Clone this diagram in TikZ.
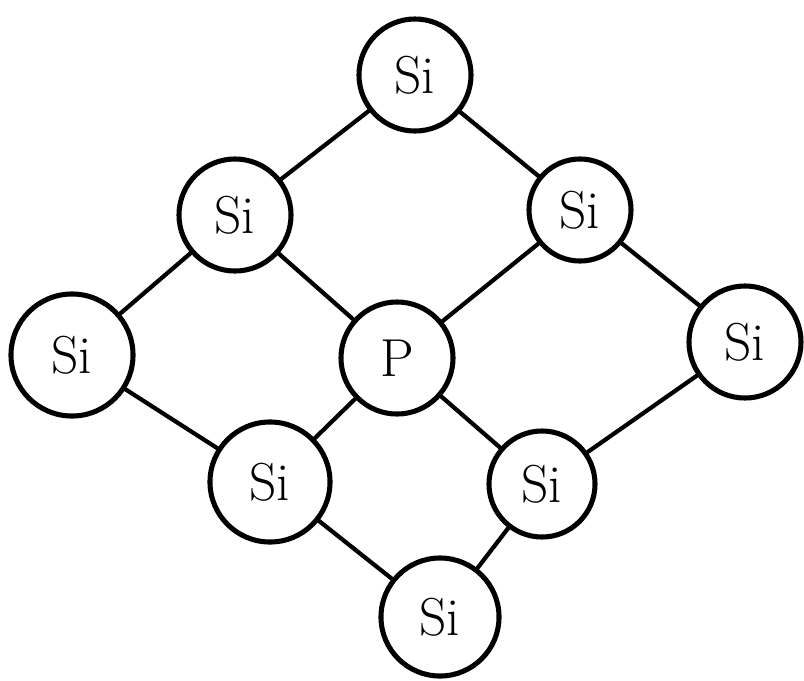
\documentclass[tikz,border=0pt]{standalone}
\usepackage{tikz}
\tikzset{
  atom/.style={draw=black,circle,line width=3.6pt,minimum size=2.8cm,inner sep=0pt,font=\fontsize{38}{38}\selectfont},
  bond/.style={line width=3pt,line cap=round}
}
\begin{document}
\begin{tikzpicture}[x=0.025cm,y=-0.025cm]
\useasboundingbox (0,0) rectangle (804,680);
\node[atom] (top) at (415,75) {Si};
\node[atom] (ul) at (235,215) {Si};
\node[atom,minimum size=2.55cm] (ur) at (580,210) {Si};
\node[atom,minimum size=3.05cm] (lft) at (72,355) {Si};
\node[atom] (p) at (397,358) {P};
\node[atom] (rgt) at (745,342) {Si};
\node[atom,minimum size=3.0cm] (ll) at (270,482) {Si};
\node[atom,minimum size=2.65cm] (lr) at (542,484) {Si};
\node[atom,minimum size=2.95cm] (bot) at (440,617) {Si};
\draw[bond] (top)--(ul);
\draw[bond] (top)--(ur);
\draw[bond] (ul)--(lft);
\draw[bond] (ul)--(p);
\draw[bond] (ur)--(p);
\draw[bond] (ur)--(rgt);
\draw[bond] (lft)--(ll);
\draw[bond] (p)--(ll);
\draw[bond] (p)--(lr);
\draw[bond] (rgt)--(lr);
\draw[bond] (ll)--(bot);
\draw[bond] (lr)--(bot);
\end{tikzpicture}
\end{document}
